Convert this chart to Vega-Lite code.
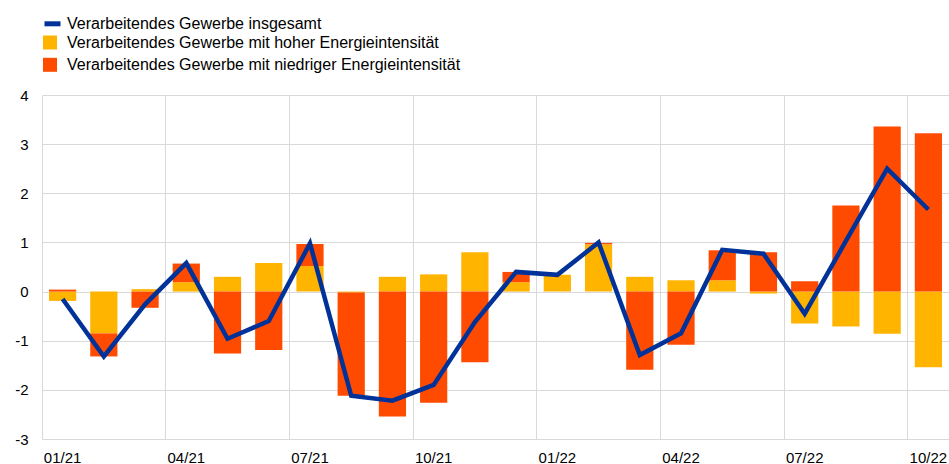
{
  "$schema": "https://vega.github.io/schema/vega-lite/v6.json",
  "width": 907,
  "height": 344,
  "autosize": {"type": "none"},
  "padding": {"left": 42, "top": 95, "right": 0, "bottom": 25},
  "config": {
    "font": "Liberation Sans",
    "view": {"stroke": null},
    "axis": {"labelColor": "#000000", "labelFont": "Liberation Sans", "gridColor": "#d9d9d9", "gridWidth": 1, "domain": false, "ticks": false, "tickSize": 0, "title": null},
    "legend": {"labelFont": "Liberation Sans", "labelFontSize": 16, "labelColor": "#000000", "padding": 0, "labelOffset": 9, "labelLimit": 0, "title": null}
  },
  "resolve": {"axis": {"x": "independent"}},
  "data": {
    "values": [
      {"month": "01/21", "Verarbeitendes Gewerbe mit hoher Energieintensität": -0.19, "Verarbeitendes Gewerbe mit niedriger Energieintensität": 0.04, "Verarbeitendes Gewerbe insgesamt": -0.15},
      {"month": "02/21", "Verarbeitendes Gewerbe mit hoher Energieintensität": -0.85, "Verarbeitendes Gewerbe mit niedriger Energieintensität": -0.47, "Verarbeitendes Gewerbe insgesamt": -1.32},
      {"month": "03/21", "Verarbeitendes Gewerbe mit hoher Energieintensität": 0.05, "Verarbeitendes Gewerbe mit niedriger Energieintensität": -0.33, "Verarbeitendes Gewerbe insgesamt": -0.26},
      {"month": "04/21", "Verarbeitendes Gewerbe mit hoher Energieintensität": 0.19, "Verarbeitendes Gewerbe mit niedriger Energieintensität": 0.38, "Verarbeitendes Gewerbe insgesamt": 0.58},
      {"month": "05/21", "Verarbeitendes Gewerbe mit hoher Energieintensität": 0.30, "Verarbeitendes Gewerbe mit niedriger Energieintensität": -1.26, "Verarbeitendes Gewerbe insgesamt": -0.96},
      {"month": "06/21", "Verarbeitendes Gewerbe mit hoher Energieintensität": 0.58, "Verarbeitendes Gewerbe mit niedriger Energieintensität": -1.19, "Verarbeitendes Gewerbe insgesamt": -0.60},
      {"month": "07/21", "Verarbeitendes Gewerbe mit hoher Energieintensität": 0.52, "Verarbeitendes Gewerbe mit niedriger Energieintensität": 0.45, "Verarbeitendes Gewerbe insgesamt": 0.98},
      {"month": "08/21", "Verarbeitendes Gewerbe mit hoher Energieintensität": -0.02, "Verarbeitendes Gewerbe mit niedriger Energieintensität": -2.10, "Verarbeitendes Gewerbe insgesamt": -2.12},
      {"month": "09/21", "Verarbeitendes Gewerbe mit hoher Energieintensität": 0.30, "Verarbeitendes Gewerbe mit niedriger Energieintensität": -2.54, "Verarbeitendes Gewerbe insgesamt": -2.22},
      {"month": "10/21", "Verarbeitendes Gewerbe mit hoher Energieintensität": 0.35, "Verarbeitendes Gewerbe mit niedriger Energieintensität": -2.26, "Verarbeitendes Gewerbe insgesamt": -1.90},
      {"month": "11/21", "Verarbeitendes Gewerbe mit hoher Energieintensität": 0.80, "Verarbeitendes Gewerbe mit niedriger Energieintensität": -1.44, "Verarbeitendes Gewerbe insgesamt": -0.62},
      {"month": "12/21", "Verarbeitendes Gewerbe mit hoher Energieintensität": 0.19, "Verarbeitendes Gewerbe mit niedriger Energieintensität": 0.21, "Verarbeitendes Gewerbe insgesamt": 0.40},
      {"month": "01/22", "Verarbeitendes Gewerbe mit hoher Energieintensität": 0.34, "Verarbeitendes Gewerbe mit niedriger Energieintensität": 0.0, "Verarbeitendes Gewerbe insgesamt": 0.34},
      {"month": "02/22", "Verarbeitendes Gewerbe mit hoher Energieintensität": 0.96, "Verarbeitendes Gewerbe mit niedriger Energieintensität": 0.03, "Verarbeitendes Gewerbe insgesamt": 1.0},
      {"month": "03/22", "Verarbeitendes Gewerbe mit hoher Energieintensität": 0.30, "Verarbeitendes Gewerbe mit niedriger Energieintensität": -1.59, "Verarbeitendes Gewerbe insgesamt": -1.29},
      {"month": "04/22", "Verarbeitendes Gewerbe mit hoher Energieintensität": 0.23, "Verarbeitendes Gewerbe mit niedriger Energieintensität": -1.08, "Verarbeitendes Gewerbe insgesamt": -0.85},
      {"month": "05/22", "Verarbeitendes Gewerbe mit hoher Energieintensität": 0.23, "Verarbeitendes Gewerbe mit niedriger Energieintensität": 0.61, "Verarbeitendes Gewerbe insgesamt": 0.85},
      {"month": "06/22", "Verarbeitendes Gewerbe mit hoher Energieintensität": -0.04, "Verarbeitendes Gewerbe mit niedriger Energieintensität": 0.80, "Verarbeitendes Gewerbe insgesamt": 0.77},
      {"month": "07/22", "Verarbeitendes Gewerbe mit hoher Energieintensität": -0.65, "Verarbeitendes Gewerbe mit niedriger Energieintensität": 0.21, "Verarbeitendes Gewerbe insgesamt": -0.45},
      {"month": "08/22", "Verarbeitendes Gewerbe mit hoher Energieintensität": -0.71, "Verarbeitendes Gewerbe mit niedriger Energieintensität": 1.75, "Verarbeitendes Gewerbe insgesamt": 1.03},
      {"month": "09/22", "Verarbeitendes Gewerbe mit hoher Energieintensität": -0.86, "Verarbeitendes Gewerbe mit niedriger Energieintensität": 3.36, "Verarbeitendes Gewerbe insgesamt": 2.50},
      {"month": "10/22", "Verarbeitendes Gewerbe mit hoher Energieintensität": -1.54, "Verarbeitendes Gewerbe mit niedriger Energieintensität": 3.22, "Verarbeitendes Gewerbe insgesamt": 1.67}
    ]
  },
  "layer": [
    {
      "transform": [
        {"fold": ["Verarbeitendes Gewerbe mit hoher Energieintensität", "Verarbeitendes Gewerbe mit niedriger Energieintensität"], "as": ["series", "value"]}
      ],
      "mark": {"type": "bar"},
      "encoding": {
        "x": {
          "field": "month",
          "type": "ordinal",
          "sort": null,
          "scale": {"paddingInner": 0.34, "paddingOuter": 0.17},
          "axis": {
            "orient": "bottom",
            "values": ["01/21", "04/21", "07/21", "10/21", "01/22", "04/22", "07/22", "10/22"],
            "bandPosition": -0.257,
            "grid": true,
            "labels": false
          }
        },
        "y": {
          "field": "value",
          "type": "quantitative",
          "stack": "zero",
          "scale": {"domain": [-3, 4], "nice": false},
          "axis": {"values": [-3, -2, -1, 0, 1, 2, 3, 4], "grid": true, "labelFontSize": 15, "labelPadding": 14, "labelExpr": "'' + datum.value"}
        },
        "fill": {
          "field": "series",
          "type": "nominal",
          "scale": {"domain": ["Verarbeitendes Gewerbe mit hoher Energieintensität", "Verarbeitendes Gewerbe mit niedriger Energieintensität"], "range": ["#ffb400", "#ff4b00"]},
          "legend": {"orient": "none", "legendX": 0, "legendY": -60.5, "symbolType": "square", "symbolSize": 196, "symbolStrokeWidth": 0, "rowPadding": 6.3, "symbolOpacity": 1}
        },
        "order": {"field": "series", "sort": "ascending"}
      }
    },
    {
      "mark": {"type": "line", "strokeWidth": 4.5, "strokeJoin": "miter"},
      "encoding": {
        "x": {
          "field": "month",
          "type": "ordinal",
          "sort": null,
          "axis": {
            "orient": "bottom",
            "values": ["01/21", "04/21", "07/21", "10/21", "01/22", "04/22", "07/22", "10/22"],
            "grid": false,
            "labelAngle": 0,
            "labelFontSize": 15,
            "labelPadding": 11
          }
        },
        "y": {"field": "Verarbeitendes Gewerbe insgesamt", "type": "quantitative"},
        "stroke": {
          "datum": "Verarbeitendes Gewerbe insgesamt",
          "type": "nominal",
          "scale": {"range": ["#003299"]},
          "legend": {"orient": "none", "legendX": 0, "legendY": -81.7, "symbolType": "stroke", "symbolSize": 256, "symbolStrokeWidth": 5, "labelOffset": 4}
        }
      }
    }
  ]
}
